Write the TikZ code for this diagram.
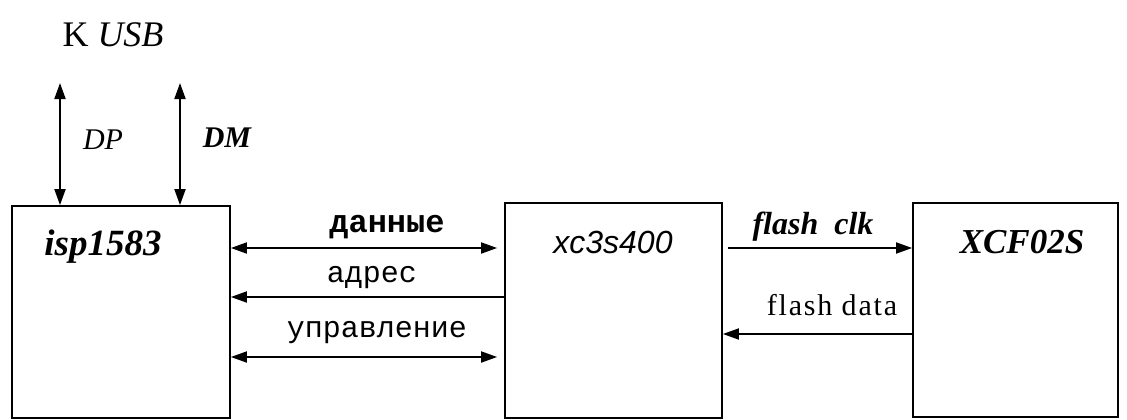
\documentclass[tikz,border=0pt]{standalone}
\usepackage{fontspec}
\setmainfont{Liberation Serif}
\newfontfamily\monofnt{Liberation Mono}
\newfontfamily\sansfnt{Liberation Sans}
\newfontfamily\widefnt[LetterSpace=6]{Liberation Serif}
\usetikzlibrary{arrows.meta}
\tikzset{
  blk/.style={draw, line width=1.8pt, rectangle, inner sep=0pt},
  tip/.tip={Triangle[length=16pt,width=11pt]},
  conn/.style={line width=1.8pt, -tip},
  biconn/.style={line width=1.8pt, tip-tip},
  lbl/.style={inner sep=0pt},
  rus/.style={inner sep=0pt, font=\monofnt\fontsize{30}{32}\selectfont},
}
\begin{document}
\begin{tikzpicture}[x=1pt,y=-1pt]
\useasboundingbox (0,0) rectangle (1127,420);
% blocks
\node[blk, minimum width=218pt, minimum height=212pt] (b1) at (121,312) {};
\node[blk, minimum width=217pt, minimum height=215pt] (b2) at (613.5,310.5) {};
\node[blk, minimum width=205pt, minimum height=214pt] (b3) at (1015.5,310) {};
% titles
\node[lbl, font=\bfseries\itshape\fontsize{37}{40}\selectfont] (t1) at (103,247) {isp1583};
\node[lbl, font=\sansfnt\itshape\fontsize{32}{36}\selectfont] (t2) at (613,242) {xc3s400};
\node[lbl, font=\bfseries\itshape\fontsize{35}{38}\selectfont] (t3) at (1022,242) {XCF02S};
% USB
\node[lbl, font=\fontsize{36}{40}\selectfont] (usb) at (113,35) {K \textit{USB}};
\coordinate (u1) at (60,83);
\coordinate (u2) at (180,83);
\draw[biconn] (u1) -- (b1.north -| u1);
\draw[biconn] (u2) -- (b1.north -| u2);
\node[lbl, font=\itshape\fontsize{30}{32}\selectfont] (dp) at (103,140) {DP};
\node[lbl, font=\bfseries\itshape\fontsize{30}{32}\selectfont] (dm) at (227,138) {DM};
% bus b1-b2
\coordinate (r1) at (0,248);
\coordinate (r2) at (0,297);
\coordinate (r3) at (0,357);
\draw[biconn, shorten >=7pt] (b1.east |- r1) -- (b2.west |- r1);
\draw[conn] (b2.west |- r2) -- (b1.east |- r2);
\draw[biconn, shorten >=7pt] (b1.east |- r3) -- (b2.west |- r3);
\node[rus, font=\monofnt\bfseries\fontsize{32}{34}\selectfont] (l1) at (387,227) {данные};
\node[rus] (l2) at (372,278) {адрес};
\node[rus] (l3) at (377,333) {управление};
% b2-b3
\coordinate (r4) at (0,248);
\coordinate (r5) at (0,334);
\draw[conn, shorten <=5pt] (b2.east |- r4) -- (b3.west |- r4);
\draw[conn] (b3.west |- r5) -- (b2.east |- r5);
\node[lbl, font=\bfseries\itshape\fontsize{32}{36}\selectfont] (l4) at (813,227) {flash\ \ clk};
\node[lbl, font=\widefnt\fontsize{30}{34}\selectfont] (l5) at (832,305) {flash\ data};
\end{tikzpicture}
\end{document}
